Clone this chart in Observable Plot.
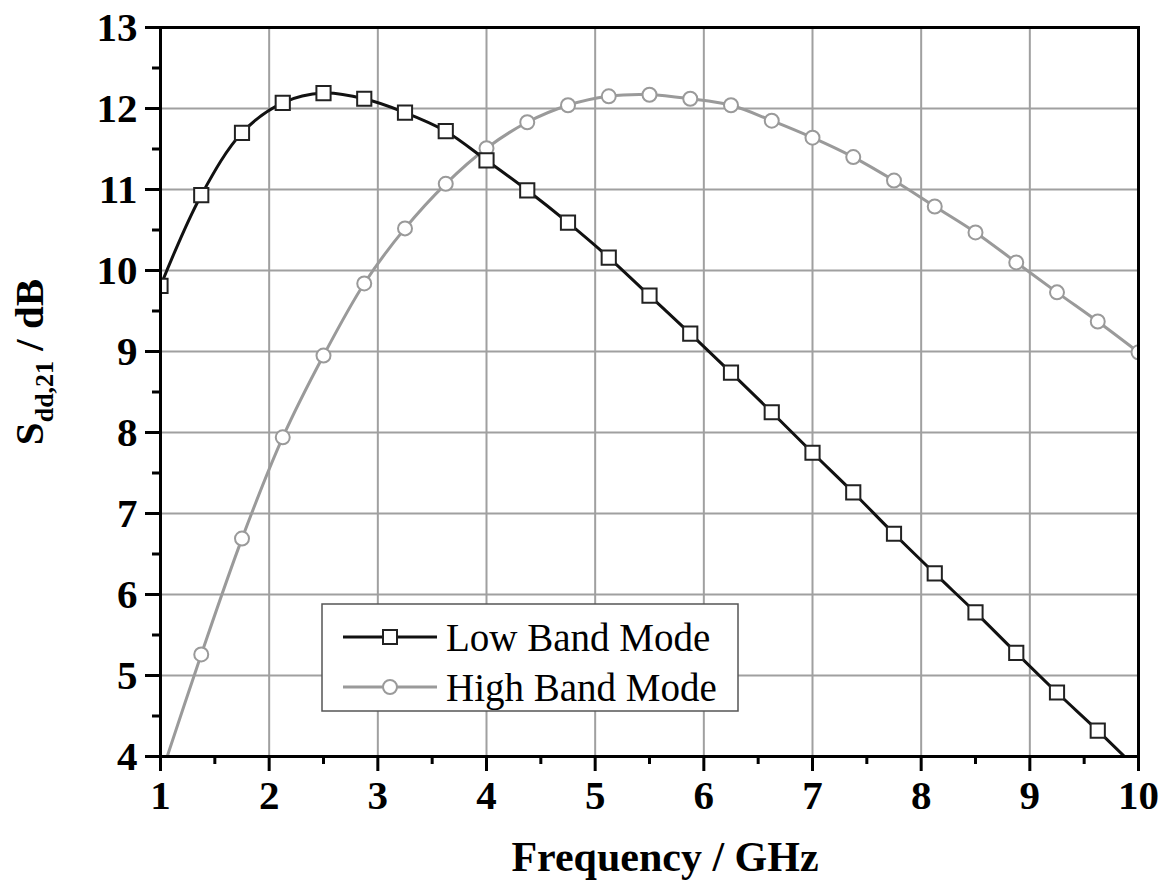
<!DOCTYPE html>
<html><head><meta charset="utf-8">
<script src="https://cdn.jsdelivr.net/npm/d3@7"></script>
<script src="https://cdn.jsdelivr.net/npm/@observablehq/plot@0.6"></script>
<style>body{margin:0;background:#fff}#chart{width:1168px;height:883px}</style>
</head><body><div id="chart"></div>
<script>
// Frequency points (GHz) for markers
const freq = [1.0,1.375,1.75,2.125,2.5,2.875,3.25,3.625,4.0,4.375,4.75,5.125,5.5,5.875,6.25,6.625,7.0,7.375,7.75,8.125,8.5,8.875,9.25,9.625,10.0];
// Low Band Mode S_dd,21 (dB)
const lowBand = [9.81,10.93,11.70,12.07,12.19,12.12,11.95,11.72,11.36,10.99,10.59,10.16,9.69,9.22,8.74,8.25,7.75,7.26,6.75,6.26,5.78,5.28,4.79,4.32,3.83];
// High Band Mode S_dd,21 (dB)
const highBand = [3.75,5.26,6.69,7.94,8.95,9.84,10.52,11.07,11.51,11.83,12.04,12.15,12.17,12.12,12.04,11.85,11.64,11.40,11.11,10.79,10.47,10.10,9.73,9.37,8.99];
const xTicks = [1,2,3,4,5,6,7,8,9,10];
const yTicks = [4,5,6,7,8,9,10,11,12,13];
const xMinor = [1.5,2.5,3.5,4.5,5.5,6.5,7.5,8.5,9.5];
const yMinor = [4.5,5.5,6.5,7.5,8.5,9.5,10.5,11.5,12.5];
const seriesNames = ["Low Band Mode","High Band Mode"];

const low = freq.map((f,i)=>({f, v: lowBand[i]}));
const high = freq.map((f,i)=>({f, v: highBand[i]}));
const lowMarkers = low.filter(d => d.f < 9.9);

const FONT = "'Liberation Serif','Times New Roman',serif";
const chart = Plot.plot({
  width: 1168, height: 883,
  marginLeft: 160, marginRight: 30, marginTop: 27, marginBottom: 127,
  style: {fontFamily: FONT, background: "#fff", color: "#000", overflow: "visible"},
  x: {domain: [1,10]},
  y: {domain: [4,13]},
  marks: [
    Plot.gridX(xTicks, {stroke: "#a0a0a0", strokeOpacity: 1, strokeWidth: 2}),
    Plot.gridY(yTicks, {stroke: "#a0a0a0", strokeOpacity: 1, strokeWidth: 2}),
    Plot.line(high, {x: "f", y: "v", stroke: "#9a9a9a", strokeWidth: 3, curve: "catmull-rom", clip: true}),
    Plot.line(low, {x: "f", y: "v", stroke: "#111", strokeWidth: 3, curve: "catmull-rom", clip: true}),
    Plot.dot(high, {x: "f", y: "v", r: 7, symbol: "circle", stroke: "#9a9a9a", strokeWidth: 2, fill: "#fff", clip: true}),
    Plot.dot(lowMarkers, {x: "f", y: "v", r: 8, symbol: "square", stroke: "#222", strokeWidth: 2, fill: "#fff", clip: true}),
    Plot.frame({stroke: "#000", strokeWidth: 3}),
    Plot.axisX(xTicks, {tickSize: 15, tickPadding: 8, strokeWidth: 3, fontSize: 41, fontWeight: "bold", tickFormat: d3.format("d"), label: null}),
    Plot.axisX(xMinor, {tickSize: 8, strokeWidth: 3, text: null, label: null}),
    Plot.axisY(yTicks, {tickSize: 15, tickPadding: 8, strokeWidth: 3, fontSize: 41, fontWeight: "bold", tickFormat: d3.format("d"), label: null}),
    Plot.axisY(yMinor, {tickSize: 8, strokeWidth: 3, text: null, label: null})
  ]
});
document.getElementById("chart").appendChild(chart);

const svg = d3.select(chart);
// Axis titles
svg.append("text").attr("x", 665).attr("y", 871).attr("text-anchor", "middle")
  .attr("font-family", FONT).attr("font-size", 42).attr("font-weight", "bold").attr("fill", "#000")
  .text("Frequency / GHz");
const yt = svg.append("text").attr("transform", "translate(43,362) rotate(-90)").attr("text-anchor", "middle")
  .attr("font-family", FONT).attr("font-size", 41).attr("font-weight", "bold").attr("fill", "#000");
yt.append("tspan").text("S");
yt.append("tspan").attr("font-size", 26).attr("dy", 10).text("dd,21");
yt.append("tspan").attr("dy", -10).text(" / dB");

// Legend
const lg = svg.append("g");
lg.append("rect").attr("x", 322).attr("y", 604).attr("width", 416).attr("height", 107)
  .attr("fill", "#fff").attr("stroke", "#555").attr("stroke-width", 1.5);
const items = [
  {name: seriesNames[0], y: 637, stroke: "#111", sym: "square"},
  {name: seriesNames[1], y: 687, stroke: "#9a9a9a", sym: "circle"}
];
items.forEach(it => {
  lg.append("line").attr("x1", 343).attr("x2", 437).attr("y1", it.y).attr("y2", it.y)
    .attr("stroke", it.stroke).attr("stroke-width", 3);
  if (it.sym === "square") {
    lg.append("rect").attr("x", 383).attr("y", it.y - 7).attr("width", 14).attr("height", 14)
      .attr("fill", "#fff").attr("stroke", "#222").attr("stroke-width", 2);
  } else {
    lg.append("circle").attr("cx", 390).attr("cy", it.y).attr("r", 7)
      .attr("fill", "#fff").attr("stroke", it.stroke).attr("stroke-width", 2);
  }
  lg.append("text").attr("x", 446).attr("y", it.y + 14).attr("text-anchor", "start").attr("font-family", FONT)
    .attr("font-size", 39).attr("fill", "#000").text(it.name);
});
</script></body></html>
